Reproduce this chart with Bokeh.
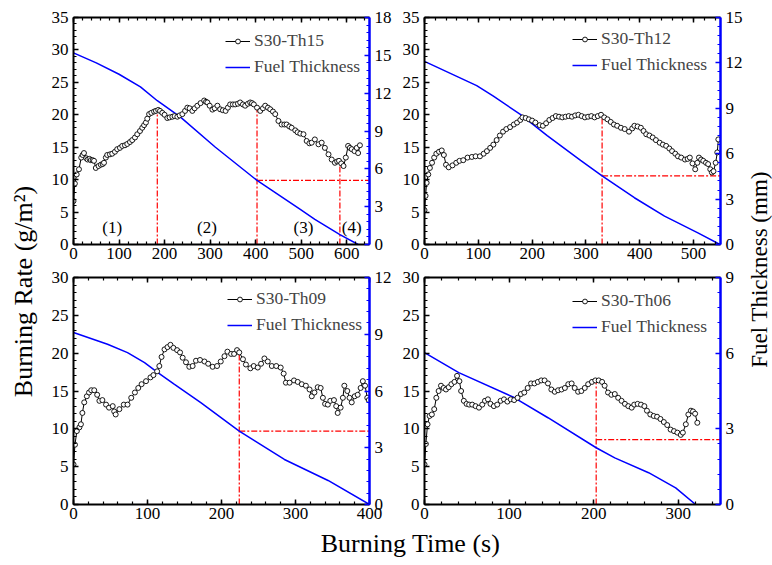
import numpy as np
from bokeh.plotting import figure
from bokeh.models import Range1d, LinearAxis, Legend, LegendItem, FixedTicker, Label
from bokeh.layouts import gridplot, row, column
from bokeh.core.properties import value
from bokeh.embed import file_html
from bokeh.resources import INLINE

FONT = "Liberation Serif"

# ---------------- data ----------------
names = ["S30-Th15", "S30-Th12", "S30-Th09", "S30-Th06"]

p1_t = [0, 3, 7, 12, 17, 20, 23, 28, 31, 35, 38, 42, 45, 49, 55, 60, 64, 67, 71, 74, 80, 85, 91, 96,
        102, 107, 113, 118, 124, 129, 135, 140, 146, 151, 155, 159, 162, 166, 171, 177, 181, 186, 190,
        195, 200, 206, 211, 217, 222, 228, 233, 239, 245, 250, 255, 261, 266, 272, 279, 287, 291, 294,
        299, 305, 310, 316, 322, 328, 334, 339, 344, 350, 355, 361, 366, 372, 377, 383, 388, 392, 396,
        403, 410, 416, 421, 427, 432, 438, 443, 450, 457, 463, 468, 474, 479, 487, 492, 498, 505, 512,
        518, 523, 530, 538, 545, 552, 560, 567, 574, 579, 583, 588, 593, 598, 603, 607, 611, 617, 622,
        625, 629]
p1_rate = [6.7, 9.4, 10.8, 11.6, 13.4, 13.8, 14.1, 13.3, 13.1, 13.2, 13.0, 13.0, 12.9, 11.8, 12.1,
           12.3, 12.4, 12.6, 13.4, 13.8, 13.9, 14.0, 14.3, 14.7, 14.9, 15.2, 15.3, 15.5, 15.8, 16.1,
           16.5, 17.0, 17.5, 18.0, 18.4, 18.8, 19.4, 20.1, 20.3, 20.5, 20.6, 20.75, 20.6, 20.3, 20.0,
           19.5, 19.6, 19.7, 19.8, 19.7, 19.9, 20.1, 20.6, 21.1, 21.0, 20.6, 21.0, 21.4, 21.8, 22.2,
           22.0, 21.9, 21.4, 20.8, 21.0, 21.4, 20.85, 20.7, 20.6, 21.1, 21.6, 21.6, 21.6, 21.7, 21.9,
           21.6, 21.4, 21.7, 21.9, 21.8, 21.6, 21.1, 20.6, 21.0, 21.4, 21.1, 20.85, 20.5, 20.1, 19.05,
           18.5, 18.5, 18.5, 18.2, 18.0, 17.6, 17.3, 17.1, 17.0, 15.96, 15.6, 15.7, 16.2, 15.45, 15.7,
           14.9, 13.9, 13.1, 12.6, 12.8, 12.9, 12.5, 12.1, 13.4, 15.2, 14.9, 14.7, 14.4, 14.9, 14.1, 15.3]
p1_th_t = [0, 50, 100, 147, 184, 235, 311, 403, 498, 530, 585, 625]
p1_th = [15.2, 14.4, 13.5, 12.5, 11.4, 10.1, 7.73, 5.08, 2.78, 1.99, 0.79, 0.0]

p2_t = [0, 2, 4, 7, 10, 14, 18, 22, 27, 32, 36, 40, 45, 52, 59, 65, 72, 80, 88, 95, 103, 110, 116,
        122, 128, 134, 140, 146, 152, 159, 166, 172, 178, 182, 188, 194, 200, 206, 214, 220, 226, 232,
        238, 244, 250, 256, 262, 268, 274, 280, 286, 292, 298, 304, 310, 316, 322, 328, 334, 340, 346,
        352, 358, 365, 372, 380, 386, 390, 396, 402, 407, 412, 418, 424, 430, 437, 443, 449, 455, 460,
        466, 471, 477, 484, 489, 493, 498, 503, 507, 510, 514, 518, 523, 527, 531, 534, 537, 541, 544, 546]
p2_rate = [5.3, 7.5, 9.5, 10.8, 11.8, 12.6, 13.4, 14.0, 14.3, 14.5, 13.8, 12.3, 11.9, 12.2, 12.6, 12.9,
           13.0, 13.4, 13.5, 13.6, 13.6, 14.0, 14.4, 14.9, 15.4, 16.1, 16.8, 17.4, 17.8, 18.1, 18.5, 18.8,
           19.2, 19.6, 19.5, 19.3, 19.1, 18.8, 18.4, 18.3, 18.7, 19.2, 19.5, 19.8, 19.7, 19.6, 19.7, 19.8,
           19.7, 19.9, 20.0, 19.8, 19.6, 19.7, 19.8, 19.6, 19.8, 20.0, 19.6, 19.3, 18.9, 18.5, 18.3, 18.0,
           17.8, 17.4, 17.9, 18.3, 18.2, 18.0, 17.5, 17.0, 16.8, 16.5, 16.1, 15.7, 15.4, 15.2, 14.8, 14.4,
           14.0, 13.6, 13.4, 13.1, 13.2, 13.4, 12.5, 11.6, 12.6, 13.4, 13.1, 12.9, 12.6, 12.4, 11.6, 11.1,
           11.3, 12.6, 14.2, 16.2]
p2_th_t = [0, 97, 128, 178, 228, 290, 330, 390, 446, 508, 549]
p2_th = [12.1, 10.5, 9.8, 8.6, 7.2, 5.56, 4.53, 3.09, 1.88, 0.77, 0.0]

p3_t = [0, 2, 4.5, 8, 10, 12, 14.5, 18, 21, 24, 28, 32, 35, 39, 44, 48, 53, 55, 57, 62, 68, 73, 78,
        83, 87.5, 92, 98, 104, 108, 113, 116, 119, 123, 127, 131, 135, 140, 144, 147.5, 152, 156.5, 161,
        165.5, 171, 177, 182, 188, 194, 199, 204, 208, 213, 217, 221, 224, 229, 233, 239, 243.5, 249,
        253.5, 258, 262.5, 268, 274, 280, 284, 287, 292, 298, 303, 308.5, 314, 319, 322, 325.6, 330,
        334, 337, 340, 343.7, 347, 352, 355, 357, 361, 364, 366, 370, 373, 376, 380, 384, 388, 391,
        394, 397, 399]
p3_rate = [5.3, 7.9, 9.7, 10.2, 10.6, 12.1, 13.5, 14.3, 14.8, 15.1, 15.1, 14.5, 13.7, 13.8, 13.2, 12.8,
           13.0, 12.3, 11.9, 12.6, 13.2, 13.2, 14.1, 14.8, 15.4, 15.9, 16.3, 16.8, 17.1, 17.6, 18.3, 19.5,
           20.5, 20.8, 21.1, 20.7, 20.4, 20.1, 19.4, 18.8, 18.2, 18.3, 19.0, 19.1, 18.9, 18.6, 18.2, 18.3,
           18.9, 19.6, 20.2, 19.9, 19.9, 20.4, 20.1, 19.2, 18.5, 18.0, 18.3, 18.1, 18.6, 19.3, 18.9, 18.3,
           18.3, 18.1, 17.3, 16.1, 16.1, 16.4, 16.2, 15.9, 15.7, 15.2, 14.3, 14.8, 15.5, 15.4, 14.1, 13.3,
           13.2, 13.7, 13.8, 13.0, 12.1, 12.8, 14.1, 15.7, 15.0, 14.1, 13.5, 14.3, 14.5, 15.4, 16.3, 15.7,
           14.1, 13.8]
p3_th_t = [0, 46, 73, 96, 114, 136, 172, 224, 285, 344, 400]
p3_th = [9.09, 8.47, 8.03, 7.5, 6.97, 6.36, 5.39, 3.88, 2.38, 1.27, 0.0]

p4_t = [0, 1.6, 3.6, 6, 8.7, 11.5, 14, 16.7, 19.5, 22.6, 25.4, 28.6, 31.8, 35.4, 38.5, 41.3, 43.3,
        46.5, 49.7, 52.8, 56.4, 60.4, 64.4, 68.3, 71.5, 75, 78, 82, 86, 90, 94, 98, 102, 106, 110, 114,
        118, 122, 126, 130, 134, 138, 142, 146, 150, 154, 158, 162, 166, 170, 174, 177.6, 181.6, 185.5,
        189.5, 193.5, 198, 202, 206, 210, 213, 217, 221, 225, 229, 233, 237, 241, 245, 248, 252, 256,
        260, 263, 267, 271, 275, 279, 283, 287, 291, 295, 299, 303, 305.5, 309, 312, 315, 317.5, 320, 322.6]
p4_rate = [5.3, 8.0, 10.6, 11.7, 11.9, 12.6, 14.1, 15.0, 15.7, 15.4, 15.2, 15.5, 15.9, 16.2, 17.0, 16.3,
           15.0, 13.7, 13.3, 13.2, 13.2, 13.0, 12.8, 13.2, 13.7, 13.9, 13.3, 13.0, 13.2, 13.7, 13.9, 13.6,
           13.9, 13.8, 14.1, 14.6, 14.8, 15.4, 16.0, 16.0, 16.2, 16.4, 16.4, 16.0, 15.2, 14.9, 15.1, 15.2,
           15.4, 15.9, 16.0, 15.4, 14.9, 15.0, 15.4, 15.9, 16.2, 16.4, 16.4, 16.2, 15.7, 14.8, 14.5, 14.6,
           14.1, 13.7, 13.3, 13.0, 12.8, 13.2, 13.3, 13.2, 13.0, 12.4, 11.9, 11.7, 11.6, 11.3, 10.9, 10.5,
           9.9, 9.7, 9.5, 9.2, 9.5, 10.6, 11.9, 12.4, 12.3, 12.0, 10.8]
p4_th_t = [0, 40.5, 106, 146, 203, 225, 265, 297, 320.6]
p4_th = [6.02, 5.23, 4.24, 3.44, 2.25, 1.85, 1.26, 0.66, 0.0]

# red reference lines: vertical markers (time, rate) and horizontal thickness line (start time, thickness)
p1_vmark_t = [184, 403, 585]
p1_vmark_rate = [20.7, 21.1, 12.6]
p1_hmark = (403, 5.08)
p2_vmark_t = [330]
p2_vmark_rate = [19.7]
p2_hmark = (330, 4.53)
p3_vmark_t = [224]
p3_vmark_rate = [20.1]
p3_hmark = (224, 3.88)
p4_vmark_t = [203]
p4_vmark_rate = [16.2]
p4_hmark = (203, 2.57)

phase_labels = ["(1)", "(2)", "(3)", "(4)"]
phase_t = [85, 293, 505, 611]
phase_y = 2.56

# axis limits
xmax = [650, 550, 400, 350]
ymax = [35, 35, 30, 30]
thmax = [18, 15, 12, 9]

# ---------------- helpers ----------------
def ticker(step, vmax, nminor):
    majors = list(np.arange(0, vmax + 1e-9, step))
    minors = list(np.arange(0, vmax + 1e-9, step / nminor))
    majors = [int(m) if float(m).is_integer() else float(m) for m in majors]
    return FixedTicker(ticks=majors, minor_ticks=[float(m) for m in minors])


def style_axis(ax, color="black", labels=True):
    ax.axis_line_color = color
    ax.axis_line_width = 2
    ax.major_tick_line_color = color
    ax.minor_tick_line_color = color
    ax.major_tick_line_width = 1.5
    ax.minor_tick_line_width = 1.2
    ax.major_tick_in = 5
    ax.major_tick_out = 0
    ax.minor_tick_in = 3
    ax.minor_tick_out = 0
    ax.major_label_text_font = FONT
    if labels:
        ax.major_label_text_color = "black"
        ax.major_label_text_font_size = "17px"
        ax.major_label_standoff = 5
    else:
        ax.major_label_text_color = None
        ax.major_label_text_font_size = "1px"
        ax.major_label_standoff = 0


def panel(i, t, rate, th_t, th, vt, vr, hm, bl, br, bt, bb, legend_loc):
    p = figure(frame_width=296, frame_height=227,
               x_range=Range1d(0, xmax[i]), y_range=Range1d(0, ymax[i]),
               output_backend="svg", toolbar_location=None,
               min_border_left=bl, min_border_right=br, min_border_top=bt, min_border_bottom=bb,
               outline_line_color=None)
    p.extra_y_ranges = {"th": Range1d(0, thmax[i])}
    p.xgrid.visible = False
    p.ygrid.visible = False

    p.xaxis.ticker = ticker(100, xmax[i], 5)
    p.yaxis.ticker = ticker(5, ymax[i], 5)
    style_axis(p.xaxis[0])
    style_axis(p.yaxis[0])
    p.xaxis[0].major_label_standoff = 3

    top = LinearAxis(ticker=ticker(100, xmax[i], 5))
    style_axis(top, labels=False)
    p.add_layout(top, "above")

    right = LinearAxis(y_range_name="th", ticker=ticker(3, thmax[i], 5))
    style_axis(right, color="#0000ff")
    right.axis_line_width = 2.5
    p.add_layout(right, "right")

    dash = "6 2 2 2"
    p.segment(x0=vt, y0=[0] * len(vt), x1=vt, y1=vr, line_color="#ff0000",
              line_width=1.2, line_dash=dash)
    p.segment(x0=[hm[0]], y0=[hm[1]], x1=[xmax[i]], y1=[hm[1]], line_color="#ff0000",
              line_width=1.2, line_dash=dash, y_range_name="th")

    rb = p.line(th_t, th, line_color="#0000ff", line_width=1.5, y_range_name="th")
    rl = p.line(t, rate, line_color="black", line_width=1)
    rs = p.scatter(t, rate, marker="circle", size=5, fill_color="white",
                   line_color="black", line_width=0.9)

    leg = Legend(items=[LegendItem(label=names[i], renderers=[rl, rs]),
                        LegendItem(label="Fuel Thickness", renderers=[rb])],
                 location=legend_loc, padding=0, margin=0, spacing=5,
                 glyph_width=25, glyph_height=12, label_height=20, label_standoff=4,
                 label_text_font=FONT, label_text_font_size="17.5px",
                 border_line_color=None, background_fill_alpha=0)
    p.add_layout(leg)
    return p


p1 = panel(0, p1_t, p1_rate, p1_th_t, p1_th, p1_vmark_t, p1_vmark_rate, p1_hmark,
           29, 25, 17, 25, (152, 167))
p1.text(x=phase_t, y=[phase_y] * 4, text=phase_labels, text_align="center",
        text_baseline="middle", text_font=value(FONT), text_font_size="17px", text_color="black")
p2 = panel(1, p2_t, p2_rate, p2_th_t, p2_th, p2_vmark_t, p2_vmark_rate, p2_hmark,
           30, 22, 17, 25, (148, 169))
p3 = panel(2, p3_t, p3_rate, p3_th_t, p3_th, p3_vmark_t, p3_vmark_rate, p3_hmark,
           29, 25, 8, 26, (154, 169))
p4 = panel(3, p4_t, p4_rate, p4_th_t, p4_th, p4_vmark_t, p4_vmark_rate, p4_hmark,
           30, 22, 8, 26, (148, 167))


def label_fig(w, h, text, x, y, angle, size):
    f = figure(width=w, height=h, x_range=Range1d(0, 1), y_range=Range1d(0, 1),
               toolbar_location=None, output_backend="svg", min_border=0,
               x_axis_location=None, y_axis_location=None, outline_line_color=None)
    f.xgrid.visible = False
    f.ygrid.visible = False
    f.add_layout(Label(x=x, y=y, x_units="screen", y_units="screen", text=text, angle=angle,
                       text_font=FONT, text_font_size=size, text_align="center",
                       text_baseline="middle", text_color="black"))
    return f


lab_left = label_fig(44, 530, "Burning Rate (g/m\u00b2)", 23, 239, np.pi / 2, "26px")
lab_right = label_fig(28, 530, "Fuel Thickness (mm)", 14, 261, np.pi / 2, "23px")
lab_bottom = label_fig(770, 33, "Burning Time (s)", 410, 20, 0, "26px")

grid = gridplot([[p1, p2], [p3, p4]], toolbar_location=None)
layout = column(row(lab_left, grid, lab_right), lab_bottom)

open("out.html", "w").write(file_html(layout, INLINE))
